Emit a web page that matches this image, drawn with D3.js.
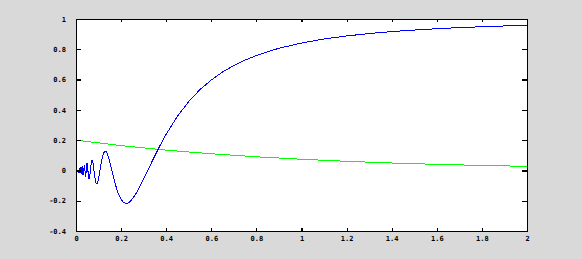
<!DOCTYPE html>
<html>
<head>
<meta charset="utf-8">
<script src="https://cdn.jsdelivr.net/npm/d3@7"></script>
<style>
	html, body { margin: 0; padding: 0; background: #d9d9d9; }
	#app { width: 582px; height: 259px; }
	.tick-label { font-family: "DejaVu Sans Mono", monospace; font-size: 7px; font-weight: bold; fill: #000; }
	path, line { shape-rendering: crispEdges; }
</style>
</head>
<body>
<div id="app"></div>
<script>
//////////////////////////// data /////////////////////////////////////////

const xTicks = [0, 0.2, 0.4, 0.6, 0.8, 1, 1.2, 1.4, 1.6, 1.8, 2];
const xTickLabels = ["0", "0.2", "0.4", "0.6", "0.8", "1", "1.2", "1.4", "1.6", "1.8", "2"];
const yTicks = [-0.4, -0.2, 0, 0.2, 0.4, 0.6, 0.8, 1];
const yTickLabels = ["-0.4", "-0.2", "0", "0.2", "0.4", "0.6", "0.8", "1"];

// blue curve
const blueX = [
	0, 0.0135, 0.0141, 0.0148, 0.0155, 0.0163, 0.0172, 0.0182, 0.0193, 0.0205,
	0.022, 0.0236, 0.0255, 0.0277, 0.0303, 0.0335, 0.0374, 0.0424, 0.0455, 0.049,
	0.054, 0.058, 0.062, 0.065, 0.0707, 0.075, 0.08, 0.085, 0.09, 0.095,
	0.1, 0.105, 0.11, 0.115, 0.12, 0.127, 0.135, 0.14, 0.15, 0.16,
	0.17, 0.18, 0.19, 0.2, 0.21, 0.22, 0.23, 0.24, 0.26, 0.28,
	0.3, 0.32, 0.34, 0.36, 0.38, 0.4, 0.45, 0.5, 0.55, 0.6,
	0.65, 0.7, 0.75, 0.8, 0.9, 1, 1.1, 1.2, 1.3, 1.4,
	1.5, 1.6, 1.7, 1.8, 1.9, 2
];
const blueY = [
	0, -0.013, 0.014, -0.015, 0.015, -0.016, 0.017, -0.018, 0.019, -0.02,
	0.022, -0.024, 0.025, -0.028, 0.03, -0.033, 0.037, -0.042, 0, 0.049,
	-0.017, -0.058, -0.025, 0.021, 0.071, 0.052, -0.005, -0.061, -0.089, -0.085,
	-0.054, -0.01, 0.036, 0.076, 0.106, 0.127, 0.122, 0.106, 0.056, -0.005,
	-0.066, -0.12, -0.162, -0.192, -0.21, -0.217, -0.215, -0.206, -0.168, -0.116,
	-0.057, 0.005, 0.068, 0.128, 0.185, 0.239, 0.358, 0.455, 0.534, 0.597,
	0.65, 0.693, 0.729, 0.759, 0.807, 0.841, 0.868, 0.888, 0.904, 0.917,
	0.927, 0.936, 0.943, 0.949, 0.954, 0.959
];

// green curve
const greenX = [0, 0.2, 0.4, 0.6, 0.8, 1, 1.2, 1.4, 1.6, 1.8, 2];
const greenY = [0.2, 0.164, 0.134, 0.11, 0.09, 0.074, 0.06, 0.049, 0.04, 0.033, 0.027];

///////////////////////////////////////////////////////////////////////////
//////////////////////////// drawing function /////////////////////////////
///////////////////////////////////////////////////////////////////////////

const createChart = () => {
	let dimensions = {
		width: 582,
		height: 259,
		margin: { top: 19, right: 55, bottom: 28, left: 76 }
	};
	dimensions.boundedWidth = dimensions.width - dimensions.margin.left - dimensions.margin.right;
	dimensions.boundedHeight = dimensions.height - dimensions.margin.top - dimensions.margin.bottom;

	const wrapper = d3.select("#app").append("svg")
		.attr("width", dimensions.width)
		.attr("height", dimensions.height);

	const bounds = wrapper.append("g")
		.attr("transform", `translate(${dimensions.margin.left},${dimensions.margin.top})`);

	//////////////////////////// scales ///////////////////////////////////////

	const xScale = d3.scaleLinear().domain([0, 2]).range([0, dimensions.boundedWidth]);
	const yScale = d3.scaleLinear().domain([-0.4, 1]).range([dimensions.boundedHeight, 0]);

	// plot area
	bounds.append("rect")
		.attr("width", dimensions.boundedWidth)
		.attr("height", dimensions.boundedHeight)
		.attr("fill", "#fff");

	//////////////////////////// lines ////////////////////////////////////////

	const lineGen = d3.line().x((d) => xScale(d[0])).y((d) => yScale(d[1]));

	bounds.append("path")
		.datum(greenX.map((x, i) => [x, greenY[i]]))
		.attr("d", lineGen)
		.attr("fill", "none")
		.attr("stroke", "#00ff00")
		.attr("stroke-width", 1);

	bounds.append("path")
		.datum(blueX.map((x, i) => [x, blueY[i]]))
		.attr("d", lineGen)
		.attr("fill", "none")
		.attr("stroke", "#0000ff")
		.attr("stroke-width", 1);

	//////////////////////////// axes /////////////////////////////////////////

	const fmtX = (d, i) => xTickLabels[i];
	const fmtY = (d, i) => yTickLabels[i];

	const xAxisBottom = bounds.append("g")
		.attr("transform", `translate(0,${dimensions.boundedHeight})`)
		.call(d3.axisBottom(xScale).tickValues(xTicks).tickFormat(fmtX).tickSizeInner(-3).tickSizeOuter(0).tickPadding(5));
	const xAxisTop = bounds.append("g")
		.call(d3.axisTop(xScale).tickValues(xTicks).tickFormat("").tickSizeInner(-3).tickSizeOuter(0));
	const yAxisLeft = bounds.append("g")
		.call(d3.axisLeft(yScale).tickValues(yTicks).tickFormat(fmtY).tickSizeInner(-5).tickSizeOuter(0).tickPadding(10));
	const yAxisRight = bounds.append("g")
		.attr("transform", `translate(${dimensions.boundedWidth},0)`)
		.call(d3.axisRight(yScale).tickValues(yTicks).tickFormat("").tickSizeInner(-5).tickSizeOuter(0));

	[xAxisBottom, xAxisTop, yAxisLeft, yAxisRight].forEach((a) => {
		a.select(".domain").attr("stroke", "#000").attr("stroke-width", 1.2);
		a.selectAll(".tick line").attr("stroke", "#000").attr("stroke-width", 1.2);
		a.selectAll(".tick text").attr("class", "tick-label").attr("font-size", null).attr("font-family", null);
	});
};

createChart();
</script>
</body>
</html>
